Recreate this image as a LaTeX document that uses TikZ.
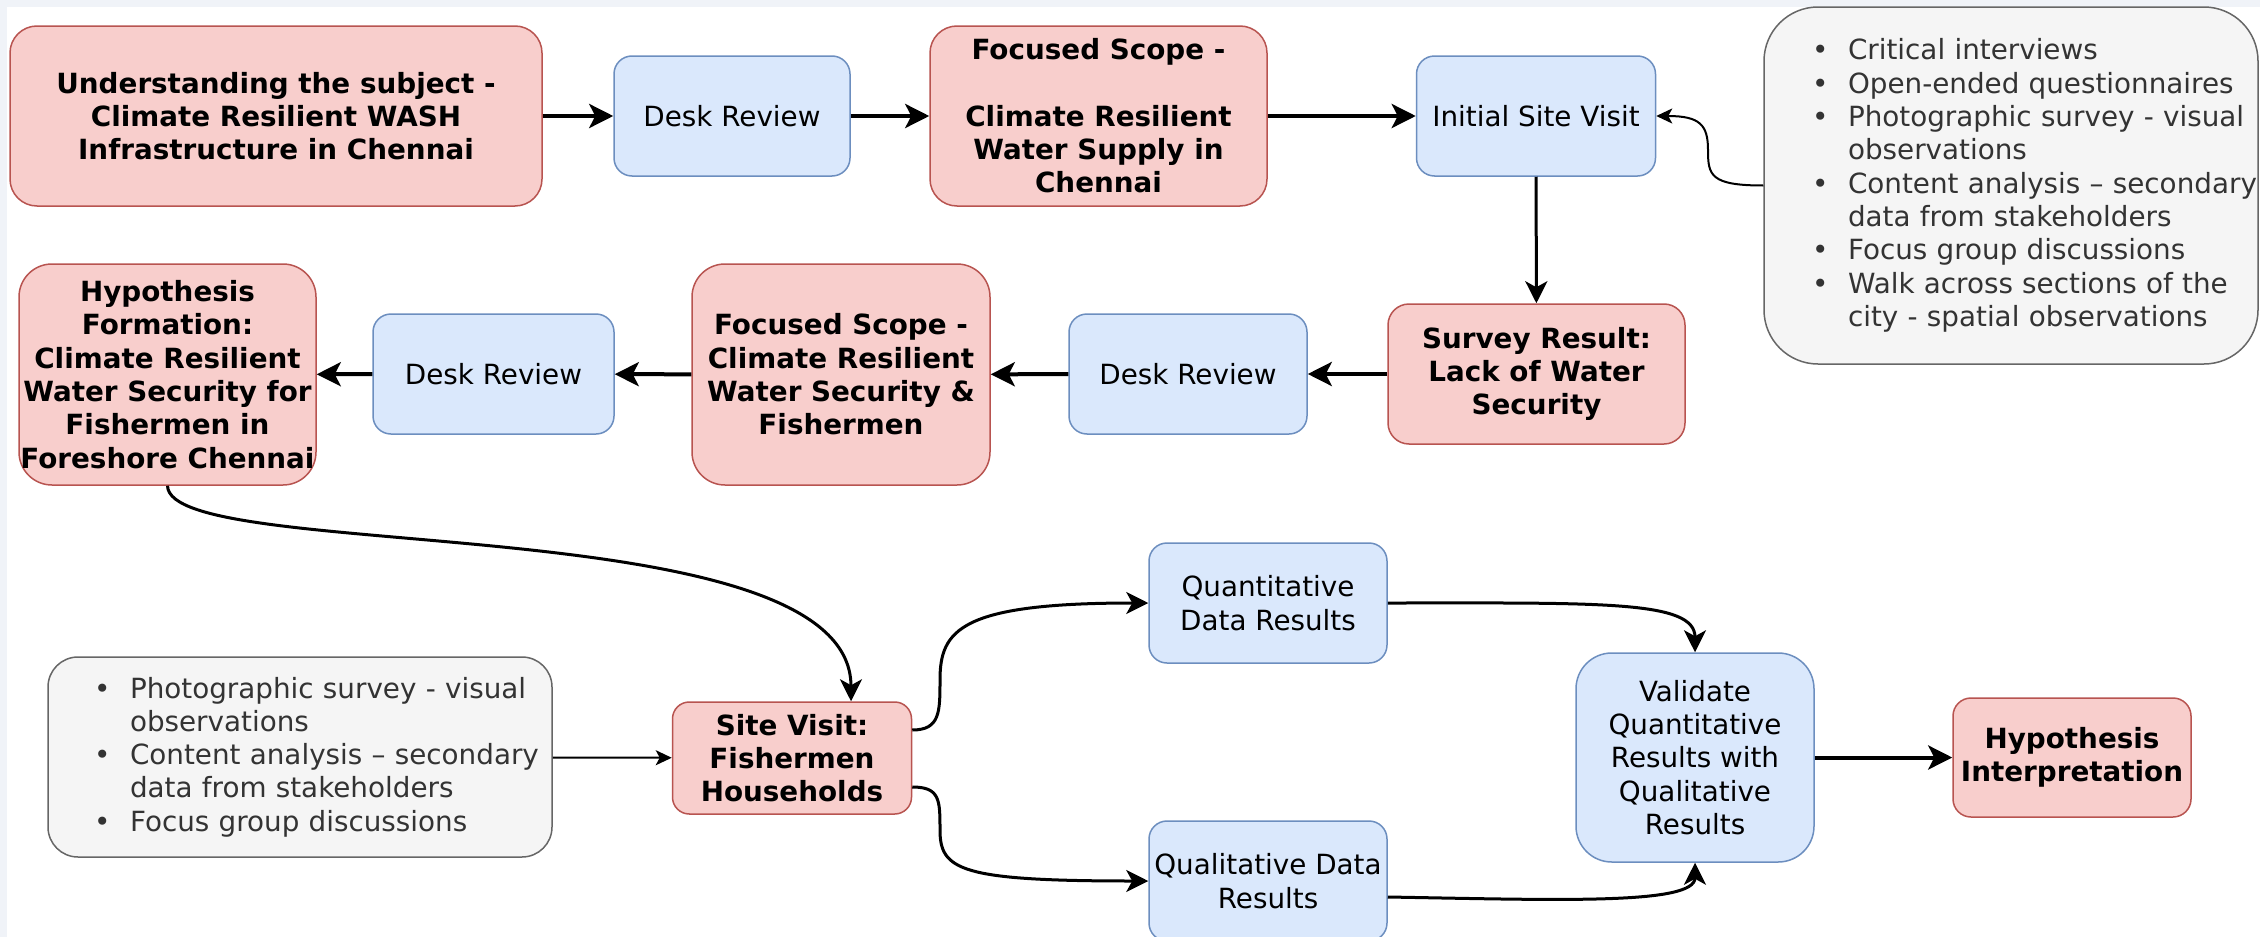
\documentclass[tikz,border=0pt]{standalone}
\usepackage{fontspec}
\setmainfont{DejaVu Sans}
\usetikzlibrary{arrows.meta}

\definecolor{pinkfill}{HTML}{F8CECC}
\definecolor{pinkline}{HTML}{B85450}
\definecolor{bluefill}{HTML}{DAE8FC}
\definecolor{blueline}{HTML}{6C8EBF}
\definecolor{notefill}{HTML}{F5F5F5}
\definecolor{noteline}{HTML}{666666}
\definecolor{notetext}{HTML}{333333}
\definecolor{pagestrip}{HTML}{F0F3F8}

% bullet lines for the method lists
\newcommand{\bitem}[1]{\mbox{\makebox[18pt][l]{\textbullet}#1}}
\newcommand{\bmore}[1]{\mbox{\hspace*{18pt}#1}}

\begin{document}
\begin{tikzpicture}[x=0.5pt, y=-0.5pt,
    every node/.style={font=\fontsize{13.9pt}{16.65pt}\selectfont},
    box/.style={draw, line width=0.75pt, inner sep=0pt, align=center},
    pinkbox/.style={box, fill=pinkfill, draw=pinkline, font=\fontsize{13.9pt}{16.65pt}\selectfont\bfseries},
    bluebox/.style={box, fill=bluefill, draw=blueline, minimum width=119pt, minimum height=60pt, rounded corners=9pt},
    notebox/.style={draw=noteline, fill=notefill, text=notetext, line width=0.75pt, align=left, inner ysep=0pt},
    flowarrow/.style={line width=2pt, -{Stealth[length=12pt, width=12pt, inset=3pt]}},
    linkarrow/.style={line width=1.5pt, -{Stealth[length=11pt, width=11pt, inset=3pt]}},
    notearrow/.style={line width=1pt, -{Stealth[length=8pt, width=7.5pt, inset=2pt]}}]

    % Page with its light strip
    \useasboundingbox (0,0) rectangle (2260,937);
    \fill[pagestrip] (0,0) rectangle (2260,937);
    \fill[white] (7,7) rectangle (2260,937);

    % Top row
    \node[pinkbox, minimum width=266pt, minimum height=90pt, rounded corners=13.5pt] (subject) at (276,116)
        {Understanding the subject -\\Climate Resilient WASH\\Infrastructure in Chennai};
    \node[bluebox, minimum width=118pt] (desk1) at (732,116) {Desk Review};
    \node[pinkbox, minimum width=168.5pt, minimum height=90pt, rounded corners=13.5pt] (scope1) at (1098.5,116)
        {Focused Scope -\\~\\Climate Resilient\\Water Supply in\\Chennai};
    \node[bluebox, minimum width=119.5pt] (initvisit) at (1536,116) {Initial Site Visit};
    \node[notebox, minimum width=247pt, minimum height=178.5pt, text width=199pt, inner xsep=24pt,
        rounded corners=27pt] (methods1) at (2011,185.5)
        {\bitem{Critical interviews}\\
         \bitem{Open-ended questionnaires}\\
         \bitem{Photographic survey - visual}\\
         \bmore{observations}\\
         \bitem{Content analysis – secondary}\\
         \bmore{data from stakeholders}\\
         \bitem{Focus group discussions}\\
         \bitem{Walk across sections of the}\\
         \bmore{city - spatial observations}};

    % Second row
    \node[pinkbox, minimum width=148.5pt, minimum height=110.5pt, rounded corners=16.5pt] (hypothesis) at (167.5,374.5)
        {Hypothesis\\Formation:\\Climate Resilient\\Water Security for\\Fishermen in\\Foreshore Chennai};
    \node[bluebox, minimum width=120.5pt] (desk3) at (493.5,374) {Desk Review};
    \node[pinkbox, minimum width=149pt, minimum height=110.5pt, rounded corners=16.5pt] (scope2) at (841,374.5)
        {Focused Scope -\\Climate Resilient\\Water Security \&\\Fishermen};
    \node[bluebox] (desk2) at (1188,374) {Desk Review};
    \node[pinkbox, minimum width=148.5pt, minimum height=70pt, rounded corners=10.5pt] (survey) at (1536.5,374)
        {Survey Result:\\Lack of Water\\Security};

    % Bottom part
    \node[notebox, minimum width=252pt, minimum height=100pt, text width=206pt, inner xsep=23pt,
        rounded corners=15pt] (methods2) at (300,757)
        {\bitem{Photographic survey - visual}\\
         \bmore{observations}\\
         \bitem{Content analysis – secondary}\\
         \bmore{data from stakeholders}\\
         \bitem{Focus group discussions}};
    \node[pinkbox, minimum width=119.5pt, minimum height=56pt, rounded corners=8.4pt] (sitevisit) at (792,758)
        {Site Visit:\\Fishermen\\Households};
    \node[bluebox] (quant) at (1268,603) {Quantitative\\Data Results};
    \node[bluebox] (qual) at (1268,881) {Qualitative Data\\Results};
    \node[bluebox, minimum height=104.5pt, rounded corners=17.9pt] (validate) at (1695,757.5)
        {Validate\\Quantitative\\Results with\\Qualitative\\Results};
    \node[pinkbox, minimum width=119pt, minimum height=59.5pt, rounded corners=9pt] (interp) at (2072,757.5)
        {Hypothesis\\Interpretation};

    % Arrows, top row
    \draw[flowarrow] (subject) -- (desk1);
    \draw[flowarrow] (desk1) -- (scope1);
    \draw[flowarrow] (scope1) -- (initvisit);
    \draw[linkarrow] (initvisit) -- (survey);
    \draw[notearrow] (methods1.west) .. controls (1710,185.5) and (1708,175) .. (1708,150)
        .. controls (1708,125) and (1700,116) .. (initvisit.east);

    % Arrows, second row
    \draw[flowarrow] (survey) -- (desk2);
    \draw[flowarrow] (desk2) -- (scope2);
    \draw[flowarrow] (scope2) -- (desk3);
    \draw[flowarrow] (desk3) -- (hypothesis);

    % Arrows, bottom part
    \draw[linkarrow] (hypothesis.south) .. controls (169,565) and (851,505) .. ([xshift=29.5pt]sitevisit.north);
    \draw[notearrow] (methods2) -- (sitevisit);
    \draw[linkarrow] ([yshift=14pt]sitevisit.east) .. controls (940,730) and (940,712) .. (940,680)
        .. controls (940,630) and (960,603) .. (quant.west);
    \draw[linkarrow] ([yshift=-14.5pt]sitevisit.east) .. controls (940,787) and (940,800) .. (940,830)
        .. controls (940,870) and (960,881) .. (qual.west);
    \draw[linkarrow] (quant.east) .. controls (1600,603) and (1695,600) .. (validate.north);
    \draw[linkarrow] ([yshift=-8pt]qual.east) .. controls (1560,900) and (1695,905) .. (validate.south);
    \draw[flowarrow] (validate) -- (interp);

\end{tikzpicture}
\end{document}
